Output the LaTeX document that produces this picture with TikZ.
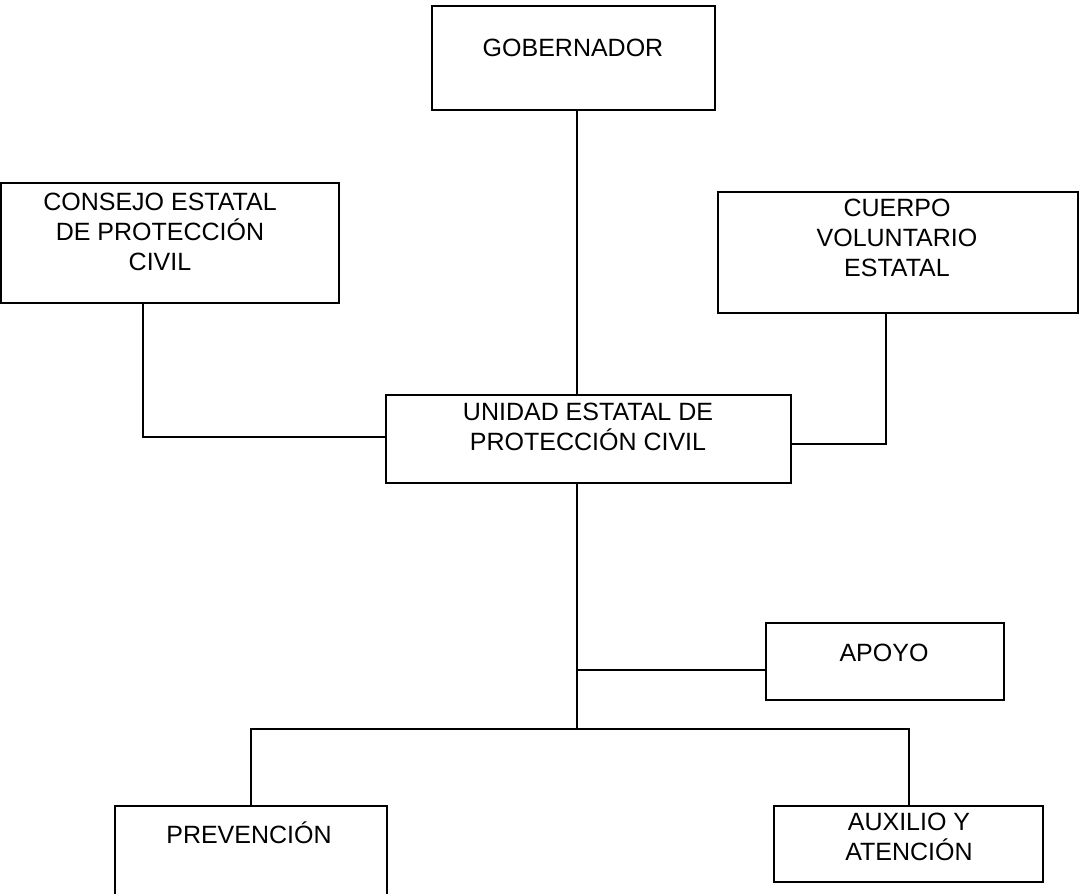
\documentclass[tikz,border=0pt]{standalone}
\usepackage{fontspec}
\setmainfont{Liberation Sans}
\usetikzlibrary{positioning}
\tikzset{
  unit/.style={draw,line width=1.2pt,inner sep=0pt},
  txt/.style={align=center,inner sep=0pt,font=\fontsize{12.5}{15}\selectfont},
  link/.style={line width=1pt}
}

\begin{document}
\begin{tikzpicture}[x=0.5pt,y=-0.5pt]
    \useasboundingbox (0,0) rectangle (1082,894);
    \clip (0,0) rectangle (1082,894);
    % boxes
    \node[unit,minimum width=141.5pt,minimum height=52pt] (gob) at (573.5,58) {};
    \node[txt] (gob-t) at (573,48) {GOBERNADOR};
    \node[unit,minimum width=169pt,minimum height=60pt] (con) at (170,243) {};
    \node[txt] (con-t) at (160,232) {CONSEJO ESTATAL\\DE PROTECCIÓN\\CIVIL};
    \node[unit,minimum width=180pt,minimum height=60.5pt] (cue) at (898,252.5) {};
    \node[txt] (cue-t) at (897,238) {CUERPO\\VOLUNTARIO\\ESTATAL};
    \node[unit,minimum width=202.5pt,minimum height=44pt] (uni) at (588.5,439) {};
    \node[txt] (uni-t) at (588,427) {UNIDAD ESTATAL DE\\PROTECCIÓN CIVIL};
    \node[unit,minimum width=119pt,minimum height=38.5pt] (apo) at (885,661.5) {};
    \node[txt] (apo-t) at (884,653) {APOYO};
    \node[unit,minimum width=136pt,minimum height=50pt] (pre) at (251,856) {};
    \node[txt] (pre-t) at (249,833) {PREVENCIÓN};
    \node[unit,minimum width=134.5pt,minimum height=38pt] (aux) at (908.5,844) {};
    \node[txt] (aux-t) at (909,836.5) {AUXILIO Y\\ATENCIÓN};
    % connectors
    \coordinate (hub) at (577,729);
    \coordinate (apo-in) at (577,670);
    \coordinate (con-out) at (143,437);
    \coordinate (cue-in) at (886,444);
    \draw[link] (gob.south -| hub) -- (uni.north -| hub);
    \draw[link] (uni.south -| hub) -- (hub);
    \draw[link] (apo-in) -- (apo-in -| apo.west);
    \draw[link] (pre.north) |- (hub) -| (aux.north);
    \draw[link] (con.south -| con-out) -- (con-out) -- (con-out -| uni.west);
    \draw[link] (cue-in -| uni.east) -- (cue-in) -- (cue-in |- cue.south);
\end{tikzpicture}
\end{document}
